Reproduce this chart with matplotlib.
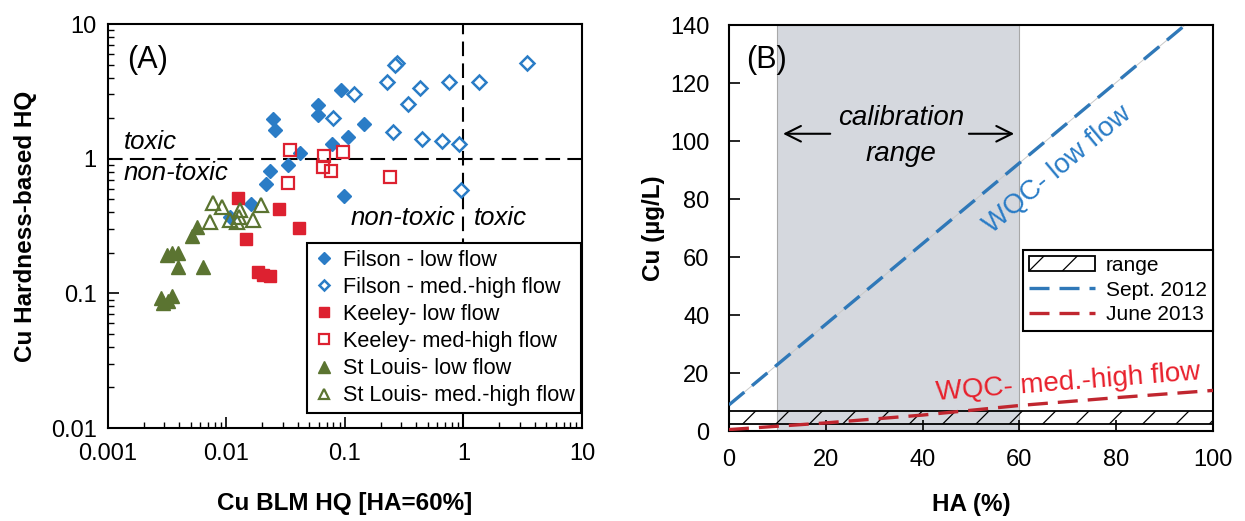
import matplotlib
matplotlib.use('agg')
from matplotlib import pyplot as plt

plt.rcParams['font.family'] = ['Liberation Sans', 'DejaVu Sans']
plt.rcParams['hatch.linewidth'] = 0.9

# ---- panel A data (BLM HQ, hardness HQ) ----
filson_low_x = [0.0247, 0.0257, 0.059, 0.059, 0.092, 0.145, 0.106, 0.078, 0.0417, 0.033, 0.0233, 0.0216, 0.098, 0.0161, 0.0107]
filson_low_y = [1.97, 1.63, 2.5, 2.11, 3.24, 1.81, 1.45, 1.29, 1.1, 0.90, 0.81, 0.65, 0.53, 0.46, 0.37]
filson_high_x = [0.275, 0.265, 3.43, 0.226, 0.43, 0.755, 1.35, 0.119, 0.34, 0.079, 0.254, 0.447, 0.66, 0.917, 0.95]
filson_high_y = [5.13, 4.95, 5.1, 3.7, 3.35, 3.7, 3.7, 3.02, 2.55, 2.0, 1.58, 1.4, 1.35, 1.29, 0.586]
keeley_low_x = [0.0125, 0.0277, 0.041, 0.0146, 0.0185, 0.0205, 0.0232]
keeley_low_y = [0.51, 0.42, 0.306, 0.254, 0.143, 0.138, 0.134]
keeley_high_x = [0.0344, 0.0666, 0.096, 0.065, 0.076, 0.24, 0.033]
keeley_high_y = [1.16, 1.05, 1.12, 0.87, 0.81, 0.73, 0.66]
stl_low_x = [0.00564, 0.0051, 0.00315, 0.00346, 0.0039, 0.0039, 0.0063, 0.0028, 0.0029, 0.0035, 0.0032]
stl_low_y = [0.311, 0.267, 0.193, 0.2, 0.2, 0.157, 0.157, 0.0925, 0.085, 0.095, 0.087]
stl_high_x = [0.0077, 0.0092, 0.013, 0.0195, 0.00726, 0.0107, 0.0122, 0.0168, 0.0127]
stl_high_y = [0.469, 0.44, 0.415, 0.453, 0.34, 0.35, 0.34, 0.35, 0.37]

# ---- panel B data ----
ha = [0, 20, 40, 60, 80, 100]
cu_sept2012 = [9.0, 36.8, 64.6, 92.4, 120.2, 148.0]
cu_june2013 = [0.5, 2.8, 5.5, 8.8, 11.5, 14.0]
range_lo = 2.4
range_hi = 7.0
calib_lo, calib_hi = 10, 60

blue = '#2a7cc6'
red = '#dd2130'
green = '#5b7431'

fig = plt.figure(figsize=(12.45, 5.21), dpi=100)
axA = fig.add_axes([0.0867, 0.1785, 0.3807, 0.7754])
axB = fig.add_axes([0.5855, 0.1727, 0.3888, 0.7793])

# ---------------- panel A ----------------
axA.set_xscale('log')
axA.set_yscale('log')
axA.set_xlim(0.001, 10)
axA.set_ylim(0.01, 10)

axA.axhline(1, color='black', lw=1.5, dashes=(7, 3.5), zorder=1)
axA.axvline(1, color='black', lw=1.5, dashes=(7, 3.5), zorder=1)

axA.plot(filson_low_x, filson_low_y, 'D', ls='none', ms=7.3, color=blue, mec=blue, label='Filson - low flow')
axA.plot(filson_high_x, filson_high_y, 'D', ls='none', ms=6.8, mfc='white', mec=blue, mew=1.8, label='Filson - med.-high flow')
axA.plot(keeley_low_x, keeley_low_y, 's', ls='none', ms=8.5, color=red, label='Keeley- low flow')
axA.plot(keeley_high_x, keeley_high_y, 's', ls='none', ms=8.3, mfc='none', mec=red, mew=1.6, label='Keeley- med-high flow')
axA.plot(stl_low_x, stl_low_y, '^', ls='none', ms=10.5, color=green, label='St Louis- low flow')
axA.plot(stl_high_x, stl_high_y, '^', ls='none', ms=9.5, mfc='none', mec=green, mew=1.6, label='St Louis- med.-high flow')

axA.text(0.00135, 1.34, 'toxic', fontsize=18.5, style='italic', va='center', ha='left')
axA.text(0.00135, 0.78, 'non-toxic', fontsize=18.5, style='italic', va='center', ha='left')
axA.text(0.85, 0.363, 'non-toxic', fontsize=18.5, style='italic', va='center', ha='right')
axA.text(1.23, 0.363, 'toxic', fontsize=18.5, style='italic', va='center', ha='left')
axA.text(0.00218, 5.4, '(A)', fontsize=22, va='center', ha='center')

legA = axA.legend(loc='lower right', bbox_to_anchor=(0.999, 0.038), fontsize=15.6,
                  frameon=True, fancybox=False, framealpha=1, edgecolor='black',
                  handlelength=0.9, markerscale=0.8, handletextpad=0.45,
                  labelspacing=0.28, borderpad=0.3, borderaxespad=0.0)
legA.get_frame().set_linewidth(1.5)

axA.set_xticks([0.001, 0.01, 0.1, 1, 10])
axA.set_xticklabels(['0.001', '0.01', '0.1', '1', '10'])
axA.set_yticks([0.01, 0.1, 1, 10])
axA.set_yticklabels(['0.01', '0.1', '1', '10'])
axA.tick_params(which='major', direction='in', length=8, width=1.2, labelsize=17, pad=8)
axA.tick_params(axis='x', which='major', pad=11)
axA.tick_params(which='minor', direction='in', length=4, width=1.0)
axA.set_xlabel('Cu BLM HQ [HA=60%]', fontsize=17.5, fontweight='bold', labelpad=19)
axA.set_ylabel('Cu Hardness-based HQ', fontsize=17.5, fontweight='bold', labelpad=10)
for s in axA.spines.values():
    s.set_linewidth(1.5)

# ---------------- panel B ----------------
axB.set_xlim(0, 100)
axB.set_ylim(0, 140)

axB.axvspan(calib_lo, calib_hi, facecolor='#d5d8de', edgecolor='#a8a8a8', lw=0.8, zorder=0)
axB.fill_between([0, 100], range_lo, range_hi, facecolor='none', edgecolor='black',
                 hatch='/', lw=1.3, zorder=2, label='range')
axB.plot(ha, cu_sept2012, color='#c9c9c9', lw=0.7, zorder=2)
axB.plot(ha, cu_sept2012, color='#2f78b8', lw=2.4, dashes=(6, 3), zorder=3, label='Sept. 2012')
axB.plot(ha, cu_june2013, color='#c0262f', lw=2.4, dashes=(6, 3), zorder=3, label='June 2013')

axB.text(7.8, 128, '(B)', fontsize=22, va='center', ha='center')
axB.text(35.5, 108, 'calibration', fontsize=20, style='italic', va='center', ha='center')
axB.text(35.5, 95.5, 'range', fontsize=20, style='italic', va='center', ha='center')
axB.annotate('', xy=(10.6, 102.5), xytext=(21.5, 102.5),
             arrowprops=dict(arrowstyle='->', lw=1.5, color='black', mutation_scale=28))
axB.annotate('', xy=(59.5, 102.5), xytext=(49.0, 102.5),
             arrowprops=dict(arrowstyle='->', lw=1.5, color='black', mutation_scale=28))
axB.text(67.8, 90, 'WQC- low flow', fontsize=20, color='#2a7cc6', rotation=40,
         va='center', ha='center', rotation_mode='anchor')
axB.text(70, 16.8, 'WQC- med.-high flow', fontsize=20, color='#e8202c', rotation=4.5,
         va='center', ha='center', rotation_mode='anchor')

legB = axB.legend(loc='upper right', bbox_to_anchor=(1.0, 0.447), fontsize=15,
                  frameon=True, fancybox=False, framealpha=1, edgecolor='black',
                  handlelength=3.2, handletextpad=0.5, labelspacing=0.28,
                  borderpad=0.3, borderaxespad=0.0)
legB.get_frame().set_linewidth(1.5)

axB.set_xticks(range(0, 101, 20))
axB.set_yticks(range(0, 141, 20))
axB.tick_params(direction='in', length=8, width=1.2, labelsize=17)
axB.tick_params(axis='x', pad=13)
axB.tick_params(axis='y', pad=14)
axB.set_xlabel('HA (%)', fontsize=17.5, fontweight='bold', labelpad=16)
axB.set_ylabel('Cu (µg/L)', fontsize=17.5, fontweight='bold', labelpad=4)
for s in axB.spines.values():
    s.set_linewidth(1.5)

plt.savefig('out.png', dpi=100)
